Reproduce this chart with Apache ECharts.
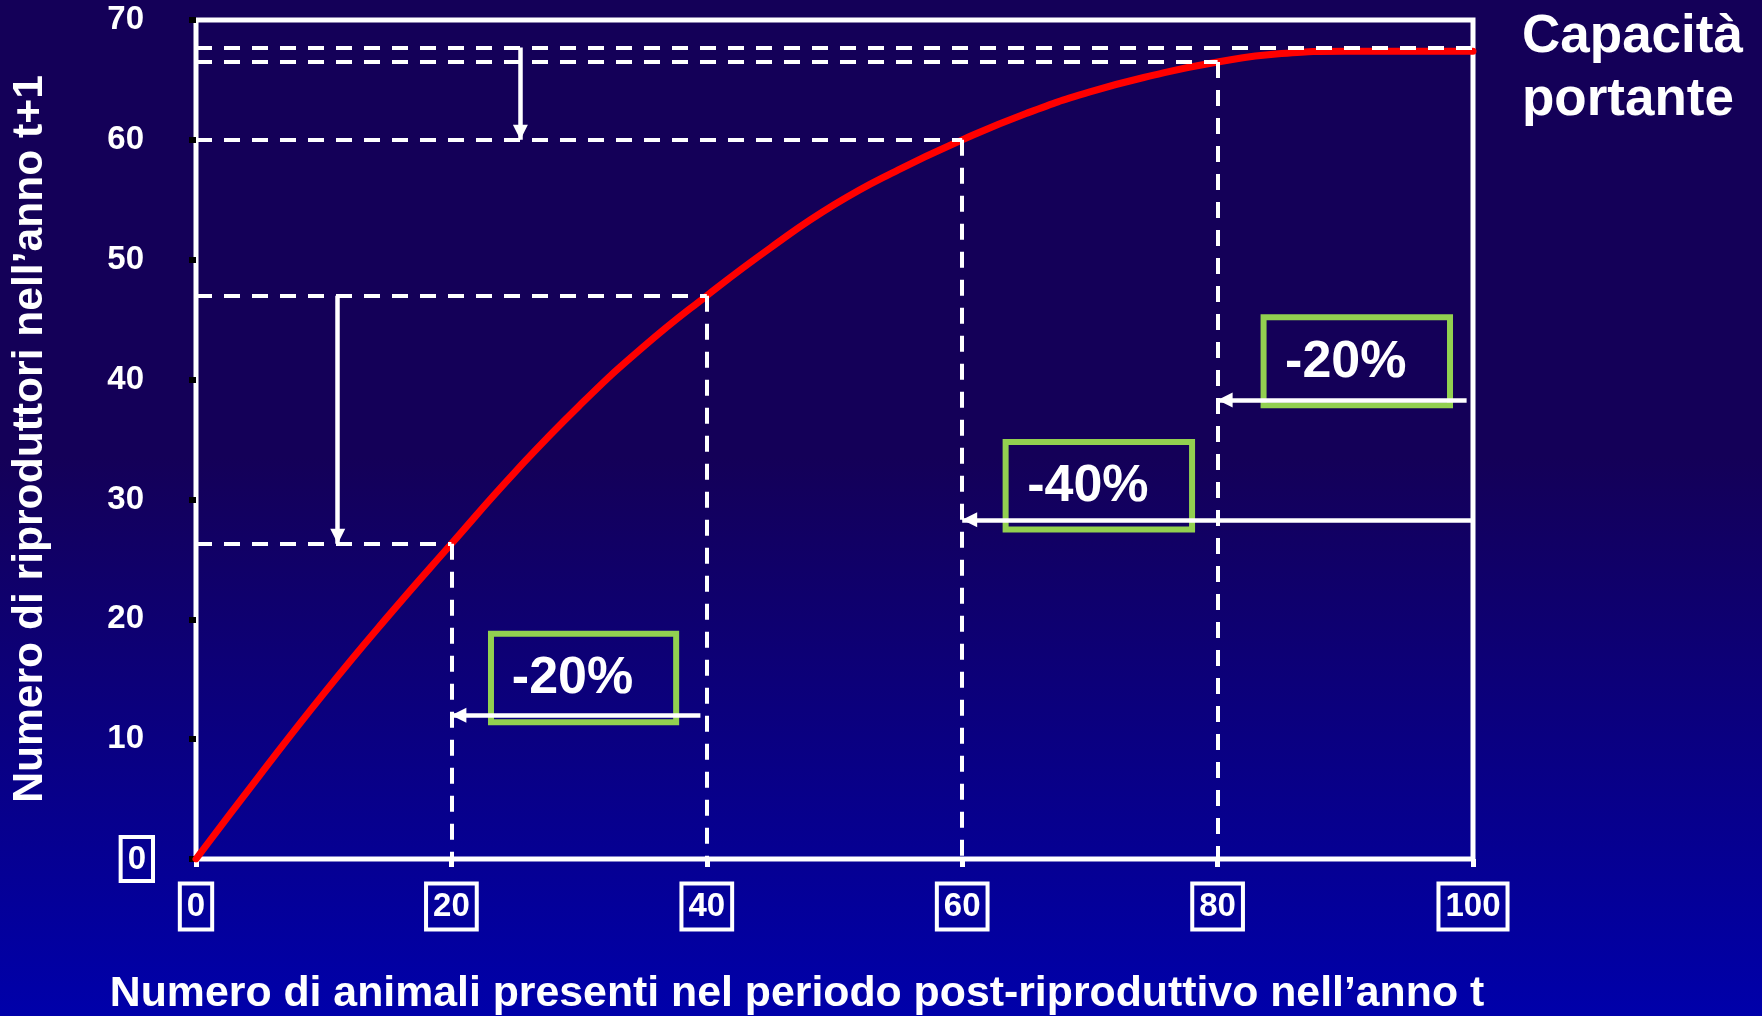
<!DOCTYPE html>
<html>
<head>
<meta charset="utf-8">
<script src="https://cdn.jsdelivr.net/npm/echarts@6/dist/echarts.min.js"></script>
<style>
  html, body { margin: 0; padding: 0; }
  #chart {
    width: 1762px; height: 1016px;
    background: linear-gradient(to bottom, #140058 0%, #140058 45%, #0000aa 100%);
  }
</style>
</head>
<body>
<div id="chart"></div>
<script>
// Stock–recruitment curve: breeders in year t+1 against post-breeding animals in year t
const curveX = [0, 5, 10, 15, 20, 25, 30, 35, 40, 45, 50, 55, 60, 65, 70, 75, 80, 85, 90, 95, 100];
const curveY = [0, 7.0, 13.8, 20.2, 26.3, 32.3, 37.8, 42.7, 47.0, 51.0, 54.6, 57.5, 60.0, 62.2, 64.0, 65.4, 66.5, 67.2, 67.4, 67.4, 67.4];

// Carrying capacity level
const capacity = 67.7;

// Population sizes projected onto the curve with dashed guides
const markedX = [20, 40, 60, 80];

// Vertical arrows: x, from y, to y
const vArrowX = [25.4, 11.1];
const vArrowFrom = [capacity, 47.0];
const vArrowTo = [60.0, 26.3];

// Horizontal arrows: y, from x, to x
const hArrowY = [12.0, 28.3, 38.3];
const hArrowFrom = [39.5, 100, 99.5];
const hArrowTo = [20, 60, 80];

// Percentage change boxes
const changeLabels = ['-20%', '-40%', '-20%'];
const boxLeft = [23.1, 63.4, 83.6];
const boxRight = [37.6, 78.0, 98.2];
const boxBottom = [11.4, 27.5, 37.85];
const boxTop = [18.8, 34.8, 45.2];

const yTitle = 'Numero di riproduttori nell\u2019anno t+1';
const xTitle = 'Numero di animali presenti nel periodo post-riproduttivo nell\u2019anno t';
const sideNote = ['Capacità', 'portante'];

const FONT = "'Liberation Sans', Arial, sans-serif";
const yAt = x => curveY[curveX.indexOf(x)];

const curveData = curveX.map((x, i) => [x, curveY[i]]);

const guideSegments = [{ coords: [[0, capacity], [100, capacity]] }];
markedX.forEach(x => {
  const y = yAt(x);
  guideSegments.push({ coords: [[0, y], [x, y]] });
  guideSegments.push({ coords: [[x, y], [x, 0]] });
});

const arrowSegments = [];
vArrowX.forEach((x, i) => arrowSegments.push({ coords: [[x, vArrowFrom[i]], [x, vArrowTo[i]]] }));
hArrowY.forEach((y, i) => arrowSegments.push({ coords: [[hArrowFrom[i], y], [hArrowTo[i], y]] }));

const boxData = changeLabels.map((_, i) => [boxLeft[i], boxRight[i], boxBottom[i], boxTop[i]]);

// Arrow head whose tip sits at the symbol centre
const arrowHead = 'path://M0,0 M30,0 M0,30 M15,15 L22.5,30 L7.5,30 Z';

const chart = echarts.init(document.getElementById('chart'), null, { renderer: 'canvas' });

chart.setOption({
  animation: false,
  backgroundColor: 'transparent',
  grid: {
    left: 196, right: 289, top: 20, bottom: 157,
    show: true, borderColor: '#ffffff', borderWidth: 5,
    backgroundColor: 'transparent',
    outerBoundsMode: 'none'
  },
  xAxis: {
    type: 'value', min: 0, max: 100, interval: 20,
    axisLine: { show: false },
    splitLine: { show: false },
    axisTick: { show: true, inside: false, length: 8, lineStyle: { color: '#ffffff', width: 5 } },
    axisLabel: {
      margin: 31,
      formatter: v => '{b|' + v + '}',
      rich: {
        b: { color: '#ffffff', fontFamily: FONT, fontWeight: 'bold', fontSize: 33, lineHeight: 33,
             borderColor: '#ffffff', borderWidth: 4, padding: [7, 7, 6, 7] }
      }
    }
  },
  yAxis: {
    type: 'value', min: 0, max: 70, interval: 10, offset: 3,
    axisLine: { show: false },
    splitLine: { show: false },
    axisTick: { show: true, inside: false, length: 7, lineStyle: { color: '#000000', width: 6 } },
    axisLabel: {
      margin: 40,
      formatter: v => (v === 0 ? '{b|0}' : '{p|' + v + '}'),
      rich: {
        p: { color: '#ffffff', fontFamily: FONT, fontWeight: 'bold', fontSize: 33, lineHeight: 33, padding: [0, 9, 0, 0] },
        b: { color: '#ffffff', fontFamily: FONT, fontWeight: 'bold', fontSize: 33, lineHeight: 33,
             borderColor: '#ffffff', borderWidth: 4, padding: [6, 7, 5, 7] }
      }
    }
  },
  series: [
    {
      type: 'line', z: 2,
      data: curveData,
      smooth: 0.5,
      showSymbol: false, symbol: 'none',
      lineStyle: { color: '#ff0000', width: 7, cap: 'round' }
    },
    {
      type: 'lines', coordinateSystem: 'cartesian2d', z: 3,
      data: guideSegments,
      symbol: 'none',
      lineStyle: { color: '#ffffff', width: 4, type: [16, 12], opacity: 1, curveness: 0 }
    },
    {
      type: 'custom', z: 4,
      data: boxData,
      renderItem: (params, api) => {
        const p0 = api.coord([api.value(0), api.value(3)]);
        const p1 = api.coord([api.value(1), api.value(2)]);
        return {
          type: 'rect',
          shape: { x: p0[0], y: p0[1], width: p1[0] - p0[0], height: p1[1] - p0[1] },
          style: { fill: 'none', stroke: '#92d050', lineWidth: 6 },
          textContent: {
            style: {
              text: changeLabels[params.dataIndex], fill: '#ffffff',
              fontFamily: FONT, fontWeight: 'bold', fontSize: 52
            }
          },
          textConfig: { position: 'inside', offset: [-11, 1] }
        };
      }
    },
    {
      type: 'lines', coordinateSystem: 'cartesian2d', z: 5,
      data: arrowSegments,
      symbol: ['none', arrowHead], symbolSize: 30,
      lineStyle: { color: '#ffffff', width: 4.5, opacity: 1, curveness: 0 }
    }
  ],
  graphic: [
    {
      type: 'text', x: 30, y: 439, rotation: Math.PI / 2,
      style: { text: yTitle, fill: '#ffffff', fontFamily: FONT, fontWeight: 'bold', fontSize: 42.6,
               align: 'center', verticalAlign: 'middle' }
    },
    {
      type: 'text', x: 797, y: 994,
      style: { text: xTitle, fill: '#ffffff', fontFamily: FONT, fontWeight: 'bold', fontSize: 42.8,
               align: 'center', verticalAlign: 'middle' }
    },
    {
      type: 'text', x: 1522, y: 37,
      style: { text: sideNote[0], fill: '#ffffff', fontFamily: FONT, fontWeight: 'bold', fontSize: 53,
               align: 'left', verticalAlign: 'middle' }
    },
    {
      type: 'text', x: 1522, y: 100,
      style: { text: sideNote[1], fill: '#ffffff', fontFamily: FONT, fontWeight: 'bold', fontSize: 53,
               align: 'left', verticalAlign: 'middle' }
    }
  ]
});
</script>
</body>
</html>
